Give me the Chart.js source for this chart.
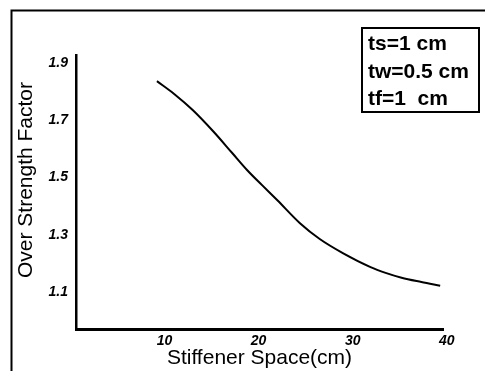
<!DOCTYPE html>
<html>
<head>
<meta charset="utf-8">
<script src="https://cdn.jsdelivr.net/npm/chart.js@4.4.1/dist/chart.umd.min.js"></script>
<style>
  html, body { margin: 0; padding: 0; background: #fff; }
  #wrap { width: 485px; height: 371px; position: relative; }
</style>
</head>
<body>
<div id="wrap"><canvas id="chart" width="485" height="371"></canvas></div>
<script>
// stiffener spacing (cm) vs over strength factor
const spacing = [9.2, 11.0, 13.0, 15.2, 17.2, 18.8, 20.4, 22.0, 24.4, 26.5, 29.0, 31.9, 33.5, 35.2, 37.3, 39.3];
const factor = [1.836, 1.792, 1.735, 1.660, 1.585, 1.525, 1.472, 1.420, 1.340, 1.285, 1.235, 1.187, 1.167, 1.150, 1.135, 1.122];

const xTicks = [10, 20, 30, 40];
const yTicks = [1.1, 1.3, 1.5, 1.7, 1.9];
const notes = ['ts=1 cm', 'tw=0.5 cm', 'tf=1  cm'];
const xTitle = 'Stiffener Space(cm)';
const yTitle = 'Over Strength Factor';

const FONT = '"Liberation Sans", Arial, sans-serif';

// outer frame, rotated y title and the parameter box
const decorPlugin = {
  id: 'decor',
  afterDraw: chart => {
    const ctx = chart.ctx;
    ctx.save();
    ctx.strokeStyle = '#000';
    ctx.lineWidth = 2;
    ctx.beginPath();
    ctx.moveTo(11.5, 371);
    ctx.lineTo(11.5, 10.5);
    ctx.lineTo(485, 10.5);
    ctx.stroke();

    ctx.fillStyle = '#000';
    ctx.font = '21px ' + FONT;
    ctx.textAlign = 'center';
    ctx.textBaseline = 'middle';
    ctx.translate(26, 180);
    ctx.rotate(-Math.PI / 2);
    ctx.fillText(yTitle, 0, 0);
    ctx.restore();

    ctx.save();
    ctx.strokeStyle = '#000';
    ctx.lineWidth = 2;
    ctx.strokeRect(362, 28, 117, 84);
    ctx.fillStyle = '#000';
    ctx.font = 'bold 21px ' + FONT;
    ctx.textAlign = 'left';
    ctx.textBaseline = 'alphabetic';
    notes.forEach((t, i) => {
      ctx.fillText(t, 368, 50 + i * 27.5);
    });
    ctx.restore();
  }
};

const tickFont = { family: FONT, size: 14, weight: 'bold', style: 'italic' };

new Chart(document.getElementById('chart').getContext('2d'), {
  type: 'line',
  data: {
    datasets: [{
      data: spacing.map((x, i) => ({ x: x, y: factor[i] })),
      borderColor: '#000',
      borderWidth: 2,
      pointRadius: 0,
      fill: false,
      cubicInterpolationMode: 'monotone'
    }]
  },
  options: {
    responsive: false,
    animation: false,
    layout: { padding: { left: 13, top: 55, right: 42, bottom: 0 } },
    plugins: {
      legend: { display: false },
      tooltip: { enabled: false }
    },
    scales: {
      x: {
        type: 'linear',
        min: 0.6,
        max: 39.6,
        afterFit: scale => { scale.height = 42; },
        afterBuildTicks: scale => { scale.ticks = xTicks.map(v => ({ value: v })); },
        grid: { display: false, drawTicks: false },
        border: { color: '#000', width: 3 },
        ticks: { color: '#000', font: tickFont, padding: 4 },
        title: {
          display: true,
          text: xTitle,
          color: '#000',
          font: { family: FONT, size: 21 },
          padding: { top: 0, bottom: 0 }
        }
      },
      y: {
        type: 'linear',
        min: 0.971,
        max: 1.927,
        afterFit: scale => { scale.width = 63; },
        afterBuildTicks: scale => { scale.ticks = yTicks.map(v => ({ value: v })); },
        grid: { display: false, drawTicks: false },
        border: { color: '#000', width: 2.5 },
        ticks: { color: '#000', font: tickFont, padding: 8 }
      }
    }
  },
  plugins: [decorPlugin]
});
</script>
</body>
</html>
